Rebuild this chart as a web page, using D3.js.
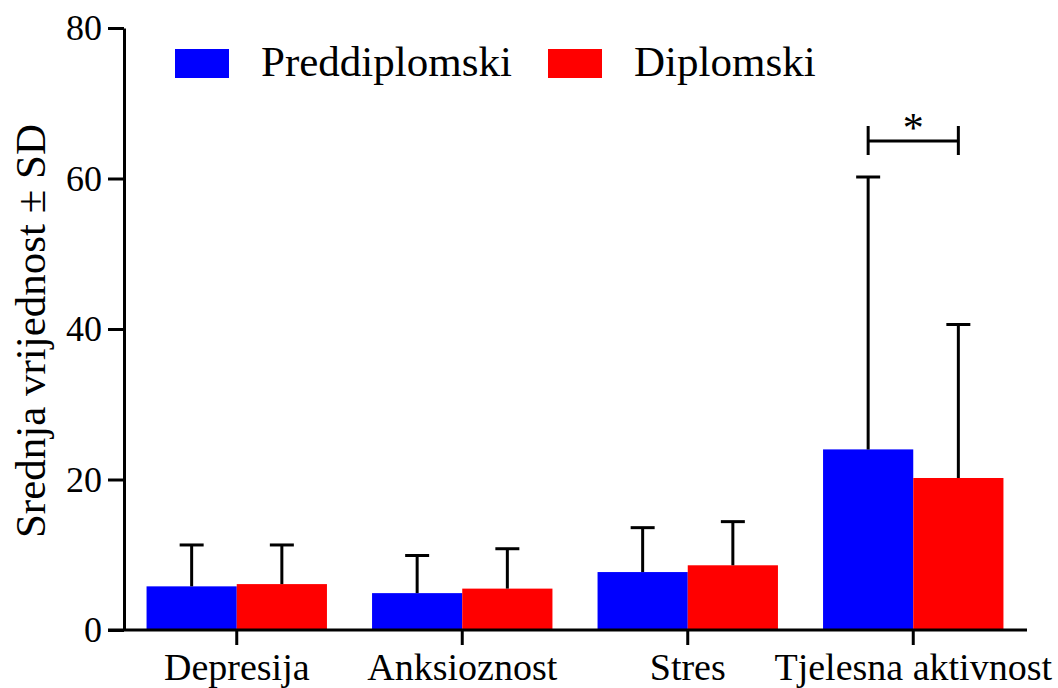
<!DOCTYPE html>
<html>
<head>
<meta charset="utf-8">
<script src="https://cdn.jsdelivr.net/npm/d3@7"></script>
</head>
<body style="margin:0">
<div id="chart"></div>
<script>
'use strict'

// data
const categories = ['Depresija', 'Anksioznost', 'Stres', 'Tjelesna aktivnost']
const seriesNames = ['Preddiplomski', 'Diplomski']
const preddiplomskiMean = [5.8, 4.9, 7.7, 24.0]
const preddiplomskiSD = [5.5, 5.0, 5.9, 36.2]
const diplomskiMean = [6.1, 5.5, 8.6, 20.2]
const diplomskiSD = [5.2, 5.3, 5.8, 20.4]
const yTicks = [0, 20, 40, 60, 80]
const colors = ['#0000ff', '#ff0000']

const FONT = '"Liberation Serif", Tinos, monospace'

let width = 1058,
	height = 688;

let svg = d3.select('#chart')
	.append('svg')
	.attr('width', width)
	.attr('height', height);

let x = d3.scaleBand().domain(categories).range([124, 1026]).paddingInner(0.2).paddingOuter(0.1),
	x1 = d3.scaleBand().domain(seriesNames).range([0, x.bandwidth()]),
	y = d3.scaleLinear().domain([0, 80]).range([630, 28]);

let rows = categories.map(function(c, i) {
	return [
		{cat: c, s: seriesNames[0], m: preddiplomskiMean[i], sd: preddiplomskiSD[i]},
		{cat: c, s: seriesNames[1], m: diplomskiMean[i], sd: diplomskiSD[i]}
	];
});

// bars
let groups = svg.append('g').selectAll('g')
	.data(rows)
	.join('g')
	.attr('transform', function(d) { return 'translate(' + x(d[0].cat) + ',0)'; });

groups.selectAll('rect')
	.data(function(d) { return d; })
	.join('rect')
	.attr('x', function(d) { return x1(d.s); })
	.attr('y', function(d) { return y(d.m); })
	.attr('width', x1.bandwidth())
	.attr('height', function(d) { return y(0) - y(d.m); })
	.attr('fill', function(d, i) { return colors[i]; });

// error bars (upper half only)
let capW = 24;
let err = groups.selectAll('g.err')
	.data(function(d) { return d; })
	.join('g')
	.attr('class', 'err')
	.attr('stroke', '#000')
	.attr('stroke-width', 3);

err.append('line')
	.attr('x1', function(d) { return x1(d.s) + x1.bandwidth() / 2; })
	.attr('x2', function(d) { return x1(d.s) + x1.bandwidth() / 2; })
	.attr('y1', function(d) { return y(d.m); })
	.attr('y2', function(d) { return y(d.m + d.sd); });

err.append('line')
	.attr('x1', function(d) { return x1(d.s) + x1.bandwidth() / 2 - capW / 2; })
	.attr('x2', function(d) { return x1(d.s) + x1.bandwidth() / 2 + capW / 2; })
	.attr('y1', function(d) { return y(d.m + d.sd); })
	.attr('y2', function(d) { return y(d.m + d.sd); });

// y axis
let yAxis = d3.axisLeft(y).tickValues(yTicks).tickSize(16).tickSizeOuter(0).tickPadding(6);
let gy = svg.append('g')
	.attr('transform', 'translate(124,0)')
	.call(yAxis)
	.attr('font-family', null);
gy.selectAll('path, line').attr('stroke', '#000').attr('stroke-width', 3);
gy.selectAll('text')
	.attr('font-size', 36)
	.attr('fill', '#000')
	.style('font-family', FONT);

// x axis
let xAxis = d3.axisBottom(x).tickSize(15).tickSizeOuter(0);
let gx = svg.append('g')
	.attr('transform', 'translate(0,630)')
	.call(xAxis)
	.attr('font-family', null);
gx.select('.domain').remove();
gx.append('line')
	.attr('x1', 108).attr('x2', 1027)
	.attr('y1', 0).attr('y2', 0);
gx.selectAll('line').attr('stroke', '#000').attr('stroke-width', 3);
gx.selectAll('text')
	.attr('y', 50)
	.attr('dy', 0)
	.attr('font-size', 38)
	.attr('fill', '#000')
	.style('font-family', FONT);

// y title
svg.append('text')
	.attr('transform', 'translate(45,331) rotate(-90)')
	.attr('text-anchor', 'middle')
	.attr('font-size', 43)
	.style('font-family', FONT)
	.text('Srednja vrijednost ± SD');

// significance bracket
let bx1 = x(categories[3]) + x1(seriesNames[0]) + x1.bandwidth() / 2,
	bx2 = x(categories[3]) + x1(seriesNames[1]) + x1.bandwidth() / 2,
	by = 141;
let br = svg.append('g').attr('stroke', '#000').attr('stroke-width', 3);
br.append('line').attr('x1', bx1).attr('x2', bx2).attr('y1', by).attr('y2', by);
br.append('line').attr('x1', bx1).attr('x2', bx1).attr('y1', by - 15).attr('y2', by + 14);
br.append('line').attr('x1', bx2).attr('x2', bx2).attr('y1', by - 15).attr('y2', by + 14);
svg.append('text')
	.attr('x', (bx1 + bx2) / 2)
	.attr('y', 142)
	.attr('text-anchor', 'middle')
	.attr('font-size', 42)
	.style('font-family', FONT)
	.text('*');

// legend
let legendX = [175, 548];
let legend = svg.append('g').selectAll('g')
	.data(seriesNames)
	.join('g')
	.attr('transform', function(d, i) { return 'translate(' + legendX[i] + ',49)'; });
legend.append('rect')
	.attr('width', 54)
	.attr('height', 29)
	.attr('fill', function(d, i) { return colors[i]; });
legend.append('text')
	.attr('x', 86)
	.attr('y', 27)
	.attr('font-size', 43)
	.style('font-family', FONT)
	.text(function(d) { return d; });
</script>
</body>
</html>
